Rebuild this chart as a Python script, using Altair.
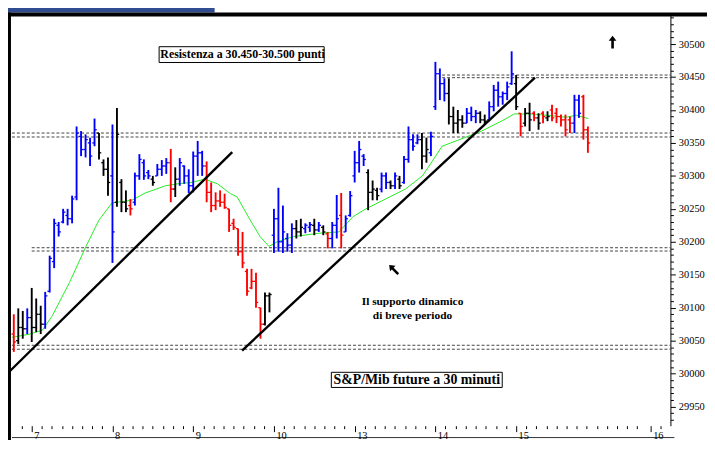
import altair as alt
import pandas as pd

# ---------------- data ----------------
# bar position: index of the 30-minute bar (first bar of day 7 = 0, 18 bars per day)
pos = list(range(-4, 125))
colors = list(
    "rkkb"
    + "kkkbbbbbbbbbbbbkkk"
    + "bkkkrbbbbkbbbrkbbb"
    + "bbbrrrrrrrrrrrrrkk"
    + "bbbbbkkbbkbkrbbrbb"
    + "bbbkkkbbkbkbbbbkkb"
    + "bbbkkkkbbbkkbbbbbb"
    + "krkkrkrkrrrrrbbrr"
)
highs = [
    30090, 30099, 30095, 30099,
    30130, 30114, 30103, 30124, 30179, 30235, 30230, 30250, 30250, 30270, 30375, 30368, 30363, 30358, 30387, 30365, 30325, 30328,
    30378, 30403, 30295, 30278, 30265, 30305, 30333, 30325, 30309, 30300, 30318, 30324, 30327, 30341, 30313, 30327, 30316, 30310,
    30337, 30353, 30338, 30322, 30290, 30275, 30278, 30273, 30250, 30235, 30220, 30215, 30159, 30159, 30153, 30100, 30123, 30123,
    30250, 30282, 30255, 30213, 30228, 30233, 30235, 30228, 30230, 30235, 30230, 30225, 30215, 30230, 30271, 30274, 30240, 30277,
    30338, 30353, 30333, 30310, 30293, 30282, 30305, 30305, 30293, 30305, 30300, 30330, 30375, 30363, 30363, 30365, 30358, 30367,
    30473, 30463, 30448, 30448, 30405, 30400, 30392, 30403, 30405, 30400, 30398, 30393, 30413, 30438, 30443, 30428, 30443, 30489,
    30453, 30395, 30403, 30411, 30398, 30395, 30398, 30398, 30408, 30403, 30393, 30393, 30390, 30423, 30423, 30423, 30375,
]
lows = [
    30033, 30045, 30053, 30060,
    30048, 30063, 30060, 30068, 30123, 30160, 30208, 30228, 30225, 30228, 30263, 30330, 30328, 30315, 30345, 30325, 30300, 30270,
    30168, 30253, 30245, 30245, 30240, 30255, 30294, 30294, 30295, 30285, 30300, 30300, 30303, 30260, 30268, 30285, 30288, 30274,
    30275, 30300, 30300, 30260, 30245, 30248, 30253, 30250, 30215, 30218, 30179, 30160, 30118, 30128, 30100, 30053, 30073, 30093,
    30183, 30185, 30183, 30185, 30183, 30205, 30208, 30213, 30215, 30210, 30215, 30210, 30190, 30190, 30205, 30190, 30215, 30238,
    30290, 30305, 30315, 30248, 30263, 30263, 30275, 30280, 30280, 30280, 30280, 30288, 30320, 30338, 30348, 30310, 30320, 30330,
    30400, 30415, 30413, 30378, 30365, 30365, 30373, 30380, 30383, 30380, 30380, 30378, 30383, 30398, 30405, 30408, 30415, 30438,
    30400, 30360, 30375, 30368, 30383, 30370, 30380, 30383, 30383, 30380, 30375, 30360, 30365, 30365, 30388, 30355, 30335,
]
opens = [
    30060, 30050, 30070, 30068,
    30085, 30070, 30090, 30075, 30125, 30170, 30225, 30230, 30240, 30235, 30268, 30360, 30340, 30350, 30350, 30365, 30320, 30310,
    30300, 30260, 30290, 30260, 30255, 30260, 30300, 30320, 30305, 30295, 30300, 30310, 30315, 30320, 30280, 30295, 30315, 30300,
    30285, 30330, 30335, 30315, 30275, 30255, 30262, 30260, 30250, 30228, 30220, 30185, 30155, 30130, 30140, 30100, 30075, 30118,
    30210, 30235, 30200, 30205, 30195, 30220, 30215, 30220, 30222, 30225, 30218, 30222, 30212, 30205, 30225, 30240, 30215, 30240,
    30300, 30320, 30330, 30305, 30275, 30278, 30280, 30300, 30290, 30285, 30295, 30290, 30325, 30355, 30350, 30355, 30330, 30335,
    30405, 30455, 30440, 30425, 30390, 30380, 30385, 30380, 30395, 30390, 30395, 30385, 30385, 30405, 30430, 30420, 30425, 30440,
    30440, 30395, 30380, 30395, 30395, 30388, 30395, 30388, 30400, 30395, 30390, 30385, 30385, 30380, 30415, 30420, 30370,
]
closes = [
    30048, 30070, 30068, 30085,
    30070, 30090, 30075, 30118, 30175, 30228, 30215, 30245, 30235, 30265, 30365, 30340, 30355, 30330, 30370, 30335, 30310, 30290,
    30215, 30363, 30260, 30250, 30250, 30300, 30325, 30300, 30300, 30290, 30310, 30315, 30320, 30280, 30295, 30320, 30300, 30285,
    30330, 30335, 30315, 30275, 30255, 30262, 30260, 30252, 30225, 30222, 30185, 30168, 30125, 30140, 30108, 30075, 30118, 30120,
    30235, 30200, 30215, 30195, 30220, 30215, 30222, 30225, 30226, 30218, 30225, 30215, 30205, 30225, 30235, 30210, 30235, 30270,
    30320, 30340, 30325, 30275, 30280, 30270, 30300, 30290, 30285, 30300, 30285, 30325, 30355, 30345, 30355, 30330, 30340, 30360,
    30455, 30440, 30425, 30390, 30380, 30385, 30380, 30395, 30390, 30395, 30385, 30383, 30405, 30430, 30420, 30425, 30435, 30455,
    30405, 30375, 30395, 30385, 30388, 30380, 30390, 30390, 30388, 30390, 30385, 30370, 30380, 30415, 30395, 30370, 30350,
]

# green moving average (sampled points)
ma_t = [-4.4, -0.4, 2.4, 4.6, 8.4, 12.1, 15.0, 17.9, 22.3, 25.3, 29.8, 32.6, 35.5, 38.6, 41.4, 44.3,
        45.8, 48.7, 50.9, 52.9, 54.7, 58.4, 64.1, 68.5, 71.6, 74.5, 78.9, 83.3, 87.1, 88.4, 91.5,
        96.5, 100.3, 104.7, 107.6, 111.3, 114.8, 119.2, 121.4, 124.1]
ma_v = [30055, 30060, 30066, 30088, 30138, 30193, 30233, 30259, 30263, 30274, 30285, 30288, 30290, 30295, 30288, 30273,
        30268, 30233, 30208, 30193, 30200, 30208, 30213, 30215, 30238, 30250, 30265, 30280, 30300, 30313, 30345,
        30358, 30368, 30383, 30394, 30394, 30392, 30389, 30392, 30387]

# trend lines (two anchor points each)
trend_id = ["a", "a", "b", "b"]
trend_t = [-4.85, 44.7, 46.9, 112.2]
trend_v = [30004, 30336, 30035, 30449]

# dashed support / resistance levels
lvl_v = [30453, 30449, 30365, 30359, 30191, 30186, 30043, 30037]
lvl_from = [91.5, 91.5, -4.41, -4.41, 0.0, 0.0, -4.41, -4.41]
lvl_to = [142.4] * 8

# x axis: day starts and labels
day_pos = [0, 18, 36, 54, 72, 90, 108, 138]
day_lab = ["7", "8", "9", "10", "13", "14", "15", "16"]
minor_x = [-2.25, 2.25, 4.5, 6.75, 9, 11.25, 13.5, 15.75, 20.25, 22.5, 24.75, 27, 29.25, 31.5, 33.75,
           38.25, 40.5, 42.75, 45, 47.25, 49.5, 51.75, 56.25, 58.5, 60.75, 63, 65.25, 67.5, 69.75,
           74.25, 76.5, 78.75, 81, 83.25, 85.5, 87.75, 92.25, 94.5, 96.75, 99, 101.25, 103.5, 105.75,
           110.25, 112.5, 114.75, 117, 119.25, 121.5, 123.75, 126, 128.25, 130.5, 132.75, 135.0, 140.25]

# annotations
note_t = [47.0, 84.9, 84.9, 85.85]
note_v = [30485, 30109, 30087, 29991]
note_txt = ["Resistenza a 30.450-30.500 punti", "Il supporto dinamico", "di breve periodo",
            "S&P/Mib future a 30 minuti"]
note_size = [12, 11.5, 11.5, 14]
box_t1 = [28.4, 66.8]
box_t2 = [65.2, 104.9]
box_v1 = [30496, 30002]
box_v2 = [30472, 29979]
arrow_t = [129.5, 80.7]
arrow_v = [30503, 30158]
arrow_angle = [0, 315]

# ---------------- chart ----------------
W, H = 666, 416
xs = alt.Scale(domain=[-4.41, 142.4], nice=False, zero=False)
ys = alt.Scale(domain=[29921, 30545], nice=False, zero=False)

x_label_expr = "".join(f"datum.value == {p} ? '{l}' : " for p, l in zip(day_pos, day_lab)) + "''"
x_axis = alt.Axis(
    values=sorted(day_pos + minor_x), labelExpr=x_label_expr, title=None, domain=False,
    tickColor="black", tickWidth=1,
    tickSize={"condition": {"test": f"indexof({day_pos}, datum.value) >= 0", "value": 6}, "value": 3},
    labelAlign="left", labelBaseline="top", labelOffset=2, labelPadding=-1,
    labelFont="Liberation Serif", labelFontSize=10.5, labelColor="black", labelOverlap=False,
    grid=False, zindex=1,
)
y_vals = list(range(29930, 30541, 10))
y_axis = alt.Axis(
    orient="right", values=y_vals, title=None,
    labelExpr="datum.value % 50 == 0 ? '' + datum.value : ''",
    tickSize={"condition": {"test": "datum.value % 50 == 0", "value": 5}, "value": 3},
    tickColor="black", domainColor="black", domainWidth=1, tickWidth=1,
    labelFont="Liberation Serif", labelFontSize=10.5, labelColor="black", labelPadding=3,
    labelOverlap=False, grid=False, zindex=1,
)


def X(field):
    return alt.X(field, scale=xs, axis=x_axis)


def Y(field):
    return alt.Y(field, scale=ys, axis=y_axis)


bars = pd.DataFrame({"t": pos, "c": colors, "h": highs, "l": lows, "o": opens, "cl": closes})
col = alt.Color("c:N", scale=alt.Scale(domain=["b", "r", "k"], range=["#0000FF", "#FF0000", "#000000"]),
                legend=None)

one = pd.DataFrame({"a": [0]})

blue_band = alt.Chart(one).mark_rect(color="#2E4C8F").encode(
    x=alt.value(-12), x2=alt.value(205), y=alt.value(-12), y2=alt.value(-2))

levels = alt.Chart(pd.DataFrame({"v": lvl_v, "f": lvl_from, "to": lvl_to})).mark_rule(
    color="#444444", strokeWidth=1, strokeDash=[3, 2]).encode(x=X("f:Q"), x2="to:Q", y=Y("v:Q"))

ma = alt.Chart(pd.DataFrame({"t": ma_t, "v": ma_v})).mark_line(color="#22EE22", strokeWidth=1).encode(
    x=X("t:Q"), y=Y("v:Q"))

hl = alt.Chart(bars).mark_rule(strokeWidth=1.9).encode(x=X("t:Q"), y=Y("l:Q"), y2="h:Q", color=col)
op = alt.Chart(bars).transform_calculate(xl="datum.t - 0.5").mark_rule(strokeWidth=1.3).encode(
    x=X("xl:Q"), x2="t:Q", y=Y("o:Q"), color=col)
cl = alt.Chart(bars).transform_calculate(xr="datum.t + 0.5").mark_rule(strokeWidth=1.3).encode(
    x=X("t:Q"), x2="xr:Q", y=Y("cl:Q"), color=col)

trend = alt.Chart(pd.DataFrame({"id": trend_id, "t": trend_t, "v": trend_v})).mark_line(
    color="black", strokeWidth=2.4).encode(x=X("t:Q"), y=Y("v:Q"), detail="id:N")

boxes = alt.Chart(pd.DataFrame({"t1": box_t1, "t2": box_t2, "v1": box_v1, "v2": box_v2})).mark_rect(
    fill="white", stroke="black", strokeWidth=1).encode(x=X("t1:Q"), x2="t2:Q", y=Y("v1:Q"), y2="v2:Q")

notes = alt.Chart(pd.DataFrame({"t": note_t, "v": note_v, "txt": note_txt, "s": note_size})).mark_text(
    font="Liberation Serif", fontWeight="bold", color="black", align="center", baseline="middle").encode(
    x=X("t:Q"), y=Y("v:Q"), text="txt:N", size=alt.Size("s:Q", scale=None, legend=None))

arrow_path = "M0,-1L0.6,-0.2L0.2,-0.2L0.2,1L-0.2,1L-0.2,-0.2L-0.6,-0.2Z"
arrows = alt.Chart(pd.DataFrame({"t": arrow_t, "v": arrow_v, "a": arrow_angle})).mark_point(
    shape=arrow_path, filled=True, color="black", opacity=1, size=170).encode(
    x=X("t:Q"), y=Y("v:Q"), angle=alt.Angle("a:Q", scale=None))

frame_top = alt.Chart(one).mark_rule(color="black", strokeWidth=4).encode(
    x=alt.value(-6), x2=alt.value(W + 60), y=alt.value(0))
frame_left = alt.Chart(one).mark_rule(color="black", strokeWidth=4).encode(
    x=alt.value(-3), y=alt.value(-2), y2=alt.value(H + 40))
bottom_line = alt.Chart(one).mark_rule(color="#333333", strokeWidth=1).encode(
    x=alt.value(0), x2=alt.value(W + 4), y=alt.value(H + 12))

chart = alt.layer(
    levels, blue_band, ma, hl, op, cl, trend, boxes, notes, arrows, frame_top, frame_left, bottom_line
).properties(
    width=W, height=H,
    autosize=alt.AutoSizeParams(type="none"),
    padding={"left": 4, "top": 4, "right": 37, "bottom": 12},
    background="white",
).configure_view(strokeWidth=0)

chart.save("out.html", embed_options={"renderer": "svg", "actions": False})
